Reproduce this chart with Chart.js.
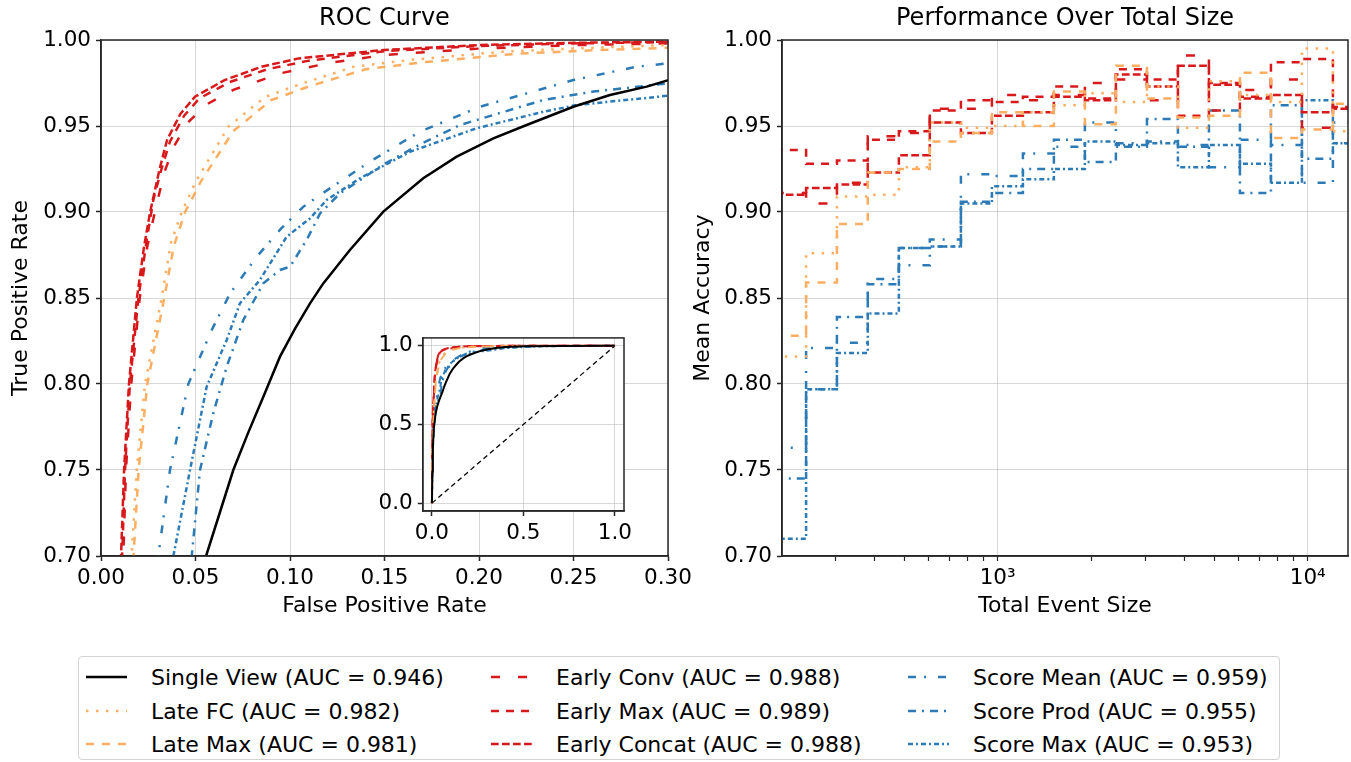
<!DOCTYPE html>
<html>
<head>
<meta charset="utf-8">
<script src="https://cdn.jsdelivr.net/npm/chart.js@4.4.0/dist/chart.umd.min.js"></script>
<style>
  body { margin: 0; background: #fff; width: 1351px; height: 762px; position: relative; overflow: hidden; font-family: "DejaVu Sans", sans-serif; }
  canvas { position: absolute; }
  #roc { left: 0; top: 0; }
  #perf { left: 690px; top: 0; }
  #inset { left: 360px; top: 320px; }
  #legendBox { position: absolute; left: 78px; top: 656px; width: 1200px; height: 102px; border: 1px solid #d3d3d3; border-radius: 4px; }
  .item { position: absolute; height: 30px; display: flex; align-items: center; font-size: 22px; color: #000; white-space: nowrap; }
  .item svg { margin-right: 24px; }
</style>
</head>
<body>
<canvas id="roc" width="700" height="640"></canvas>
<canvas id="perf" width="661" height="640"></canvas>
<canvas id="inset" width="280" height="230"></canvas>
<div id="legendBox"></div>
<div id="legend"></div>
<script>
const FONT = '"DejaVu Sans", sans-serif';
const RED = '#d7191c', ORANGE = '#fdae61', BLUE = '#2c7bb6', BLACK = '#000000';
const GRID = 'rgba(176,176,176,0.5)';
const AXIS = '#262626';

const seriesNames = ['Single View', 'Late FC', 'Late Max', 'Early Conv', 'Early Max', 'Early Concat', 'Score Mean', 'Score Prod', 'Score Max'];
const aucValues = [0.946, 0.982, 0.981, 0.988, 0.989, 0.988, 0.959, 0.955, 0.953];
const seriesColors = [BLACK, ORANGE, ORANGE, RED, RED, RED, BLUE, BLUE, BLUE];
const seriesDashes = [[], [2.5, 7.5], [8, 8], [9, 18], [8, 7], [7.7, 3.3], [8, 8, 2, 12], [8, 6, 2, 6], [5, 3, 2, 3]];

// ROC curves, [false positive rate, true positive rate]
const rocSingleView = [[0,0],[0.002,0.2],[0.005,0.35],[0.01,0.47],[0.02,0.57],[0.03,0.62],[0.04,0.655],[0.048,0.68],[0.0556,0.70],[0.0628,0.725],[0.070,0.75],[0.078,0.772],[0.0859,0.7926],[0.0947,0.8159],[0.1026,0.832],[0.1106,0.8469],[0.1176,0.8585],[0.1317,0.8779],[0.1494,0.9002],[0.1705,0.9196],[0.1882,0.9322],[0.2076,0.9428],[0.2252,0.9506],[0.2499,0.9612],[0.2693,0.968],[0.2887,0.9729],[0.3002,0.9767],[0.35,0.986],[0.4,0.992],[0.5,0.997],[0.7,0.999],[1,1]];
const rocLateFC = [[0,0],[0.002,0.3],[0.006,0.5],[0.011,0.62],[0.0162,0.70],[0.0189,0.75],[0.0233,0.80],[0.0321,0.85],[0.037,0.882],[0.0427,0.90],[0.0506,0.9186],[0.0674,0.9496],[0.087,0.967],[0.1066,0.9748],[0.134,0.9845],[0.1634,0.9884],[0.2124,0.9932],[0.2516,0.9951],[0.30,0.9971],[0.4,0.999],[1,1]];
const rocLateMax = [[0,0],[0.0025,0.3],[0.007,0.5],[0.012,0.62],[0.0172,0.70],[0.0199,0.75],[0.0245,0.80],[0.0333,0.849],[0.0385,0.88],[0.0445,0.90],[0.053,0.918],[0.07,0.947],[0.09,0.965],[0.11,0.973],[0.14,0.983],[0.17,0.987],[0.22,0.992],[0.26,0.994],[0.30,0.9955],[0.4,0.9985],[1,1]];
const rocEarlyConv = [[0,0],[0.002,0.3],[0.0045,0.5],[0.0075,0.62],[0.0118,0.70],[0.0132,0.75],[0.016,0.80],[0.0205,0.85],[0.0245,0.88],[0.0285,0.9],[0.0335,0.923],[0.0385,0.938],[0.046,0.952],[0.055,0.962],[0.07,0.971],[0.0948,0.9806],[0.12,0.9865],[0.1497,0.9913],[0.2,0.995],[0.25,0.997],[0.3,0.998],[0.4,0.9993],[1,1]];
const rocEarlyMax = [[0,0],[0.0015,0.3],[0.004,0.5],[0.007,0.62],[0.0112,0.70],[0.0127,0.75],[0.0153,0.80],[0.0198,0.85],[0.0242,0.8837],[0.0277,0.907],[0.032,0.925],[0.0365,0.941],[0.044,0.956],[0.052,0.966],[0.068,0.9755],[0.088,0.983],[0.11,0.988],[0.15,0.9935],[0.2,0.9965],[0.25,0.998],[0.3,0.9988],[0.4,0.9995],[1,1]];
const rocEarlyConcat = [[0,0],[0.001,0.3],[0.003,0.5],[0.006,0.62],[0.0106,0.70],[0.0122,0.75],[0.0148,0.80],[0.019,0.85],[0.0228,0.88],[0.026,0.9],[0.031,0.925],[0.035,0.942],[0.042,0.957],[0.0497,0.967],[0.0654,0.9767],[0.085,0.9845],[0.1046,0.9893],[0.1497,0.9942],[0.2006,0.9971],[0.2516,0.9984],[0.30,0.999],[0.4,0.9995],[1,1]];
const rocScoreMean = [[0,0],[0.002,0.3],[0.008,0.5],[0.018,0.62],[0.025,0.67],[0.0303,0.70],[0.0365,0.75],[0.0462,0.80],[0.0586,0.8314],[0.0683,0.8527],[0.0824,0.874],[0.095,0.89],[0.107,0.903],[0.1159,0.9099],[0.1423,0.9293],[0.1688,0.9467],[0.2005,0.9612],[0.2499,0.9767],[0.2834,0.9845],[0.30,0.9864],[0.4,0.995],[0.6,0.999],[1,1]];
const rocScoreProd = [[0,0],[0.004,0.3],[0.012,0.5],[0.026,0.62],[0.04,0.67],[0.048,0.70],[0.0524,0.75],[0.0594,0.783],[0.0665,0.81],[0.0753,0.8372],[0.0859,0.8585],[0.0947,0.8663],[0.10,0.8682],[0.1088,0.8837],[0.1159,0.8992],[0.1265,0.9109],[0.15,0.928],[0.17,0.94],[0.19,0.9506],[0.234,0.9651],[0.2605,0.970],[0.30,0.9748],[0.4,0.99],[0.6,0.998],[1,1]];
const rocScoreMax = [[0,0],[0.003,0.3],[0.01,0.5],[0.022,0.62],[0.031,0.67],[0.0383,0.70],[0.0471,0.75],[0.0559,0.7984],[0.0665,0.8256],[0.0735,0.8469],[0.0841,0.8605],[0.0982,0.8856],[0.1106,0.8963],[0.1194,0.907],[0.137,0.9196],[0.1635,0.935],[0.1988,0.9487],[0.234,0.9583],[0.2517,0.9622],[0.30,0.9676],[0.4,0.985],[0.6,0.997],[1,1]];
const rocCurves = [rocSingleView, rocLateFC, rocLateMax, rocEarlyConv, rocEarlyMax, rocEarlyConcat, rocScoreMean, rocScoreProd, rocScoreMax];
const chanceLine = [[0,0],[1,1]];

// mean accuracy per total event size bin (bin edges, one value per bin)
const sizeBinEdges = [191, 241, 303, 381, 480, 604, 761, 958, 1206, 1518, 1911, 2406, 3030, 3814, 4802, 6045, 7610, 9580, 12060, 15180];
const accLateFC = [0.816,0.876,0.909,0.910,0.926,0.952,0.949,0.950,0.958,0.962,0.969,0.964,0.973,0.949,0.976,0.968,0.964,0.995,0.947];
const accLateMax = [0.828,0.859,0.893,0.923,0.925,0.941,0.946,0.958,0.950,0.970,0.951,0.985,0.966,0.955,0.956,0.981,0.943,0.948,0.963];
const accEarlyConv = [0.911,0.905,0.917,0.944,0.946,0.960,0.960,0.968,0.965,0.968,0.975,0.977,0.965,0.991,0.959,0.971,0.977,0.949,0.965];
const accEarlyMax = [0.936,0.928,0.930,0.942,0.947,0.959,0.965,0.964,0.967,0.973,0.966,0.983,0.977,0.956,0.975,0.967,0.987,0.989,0.961];
const accEarlyConcat = [0.910,0.914,0.916,0.923,0.933,0.952,0.946,0.956,0.958,0.967,0.965,0.980,0.973,0.985,0.974,0.966,0.968,0.958,0.960];
const accScoreMean = [0.763,0.821,0.824,0.861,0.869,0.884,0.922,0.921,0.934,0.938,0.952,0.940,0.941,0.939,0.926,0.942,0.939,0.917,0.952];
const accScoreProd = [0.745,0.797,0.839,0.858,0.879,0.880,0.906,0.911,0.925,0.942,0.929,0.938,0.954,0.938,0.959,0.911,0.962,0.931,0.940];
const accScoreMax = [0.710,0.797,0.818,0.841,0.879,0.880,0.905,0.915,0.919,0.925,0.941,0.939,0.940,0.926,0.939,0.928,0.917,0.965,0.940];
const perfSeries = [null, accLateFC, accLateMax, accEarlyConv, accEarlyMax, accEarlyConcat, accScoreMean, accScoreProd, accScoreMax];

const rocTicks = [0, 0.05, 0.10, 0.15, 0.20, 0.25, 0.30];
const accTicks = [0.70, 0.75, 0.80, 0.85, 0.90, 0.95, 1.00];
const insetTicks = [0, 0.5, 1.0];
const sizeTicks = [300,400,500,600,700,800,900,1000,2000,3000,4000,5000,6000,7000,8000,9000,10000];
const sizeTickLabels = { 1000: '10³', 10000: '10⁴' };

Chart.defaults.font.family = FONT;
Chart.defaults.color = '#000';

// spines on all four sides
const frame = {
  id: 'frame',
  afterDraw(chart) {
    const { ctx, chartArea: a } = chart;
    ctx.save();
    ctx.strokeStyle = AXIS;
    ctx.lineWidth = 1.5;
    ctx.strokeRect(a.left, a.top, a.right - a.left, a.bottom - a.top);
    ctx.restore();
  }
};
const whiteBg = {
  id: 'whiteBg',
  beforeDraw(chart) {
    const { ctx, chartArea: a } = chart;
    ctx.save();
    ctx.fillStyle = '#fff';
    ctx.fillRect(a.left, a.top, a.right - a.left, a.bottom - a.top);
    ctx.restore();
  }
};

function setTicks(values) {
  return (s) => { s.ticks = values.map(v => ({ value: v })); };
}

function baseScale(extra) {
  return Object.assign({
    bounds: 'data',
    border: { display: true, color: AXIS, width: 1.5 },
    grid: { color: GRID, lineWidth: 1, tickLength: 5, tickColor: AXIS, tickWidth: 1.5 },
    ticks: { font: { size: 21.5 }, color: '#000', padding: 5, maxRotation: 0, autoSkip: false }
  }, extra);
}

function rocDataset(i, width) {
  return {
    data: rocCurves[i].map(p => ({ x: p[0], y: p[1] })),
    borderColor: seriesColors[i],
    borderDash: seriesDashes[i],
    borderWidth: width,
    borderCapStyle: 'butt',
    pointRadius: 0,
    tension: 0,
    fill: false
  };
}

const commonOpts = {
  responsive: false,
  maintainAspectRatio: false,
  animation: false,
  events: []
};

// ROC chart
new Chart(document.getElementById('roc'), {
  type: 'line',
  data: { datasets: seriesNames.map((n, i) => Object.assign(rocDataset(i, 2.5), { label: n })) },
  options: Object.assign({}, commonOpts, {
    layout: { padding: { left: 0, right: 32, top: 0, bottom: 0 } },
    plugins: {
      legend: { display: false },
      tooltip: { enabled: false },
      title: { display: true, text: 'ROC Curve', fullSize: false, font: { size: 24, weight: 'normal' }, color: '#000', padding: { top: 4, bottom: 7.2 } }
    },
    scales: {
      x: baseScale({
        type: 'linear', min: 0, max: 0.3,
        afterBuildTicks: setTicks(rocTicks),
        afterFit: (s) => { s.height = 84; },
        ticks: { font: { size: 21.5 }, color: '#000', padding: 5, maxRotation: 0, autoSkip: false, callback: v => v.toFixed(2) },
        title: { display: true, text: 'False Positive Rate', font: { size: 22 }, color: '#000', padding: { top: 0, bottom: 21 } }
      }),
      y: baseScale({
        type: 'linear', min: 0.7, max: 1.0,
        afterBuildTicks: setTicks(accTicks),
        afterFit: (s) => { s.width = 101; },
        ticks: { font: { size: 21.5 }, color: '#000', padding: 5, autoSkip: false, callback: v => v.toFixed(2) },
        title: { display: true, text: 'True Positive Rate', font: { size: 22 }, color: '#000', padding: { top: 8, bottom: 0 } }
      })
    }
  }),
  plugins: [frame]
});

// inset with the full ROC range
const insetSets = seriesNames.map((n, i) => Object.assign(rocDataset(i, 2), { label: n }));
insetSets.push({
  label: 'chance',
  data: chanceLine.map(p => ({ x: p[0], y: p[1] })),
  borderColor: BLACK, borderDash: [5, 3.5], borderWidth: 1.3, pointRadius: 0, fill: false
});
new Chart(document.getElementById('inset'), {
  type: 'line',
  data: { datasets: insetSets },
  options: Object.assign({}, commonOpts, {
    layout: { padding: { left: 0, right: 16, top: 10.7, bottom: 0 } },
    plugins: { legend: { display: false }, tooltip: { enabled: false } },
    scales: {
      x: baseScale({
        type: 'linear', min: -0.05, max: 1.05,
        afterBuildTicks: setTicks(insetTicks),
        afterFit: (s) => { s.height = 39; },
        ticks: { font: { size: 21.5 }, color: '#000', padding: 5, maxRotation: 0, autoSkip: false, callback: v => v.toFixed(1) }
      }),
      y: baseScale({
        type: 'linear', min: -0.05, max: 1.05,
        afterBuildTicks: setTicks(insetTicks),
        afterFit: (s) => { s.width = 62.8; },
        ticks: { font: { size: 21.5 }, color: '#000', padding: 5, autoSkip: false, callback: v => v.toFixed(1) }
      })
    }
  }),
  plugins: [whiteBg, frame]
});

// accuracy vs total event size
const perfSets = [];
perfSeries.forEach((vals, i) => {
  if (!vals) return;
  perfSets.push({
    label: seriesNames[i],
    data: sizeBinEdges.map((e, k) => ({ x: e, y: vals[Math.min(k, vals.length - 1)] })),
    stepped: 'before',
    borderColor: seriesColors[i],
    borderDash: seriesDashes[i],
    borderWidth: 2.5,
    borderCapStyle: 'butt',
    pointRadius: 0,
    fill: false
  });
});
new Chart(document.getElementById('perf'), {
  type: 'line',
  data: { datasets: perfSets },
  options: Object.assign({}, commonOpts, {
    layout: { padding: { left: 0, right: 3, top: 0, bottom: 0 } },
    plugins: {
      legend: { display: false },
      tooltip: { enabled: false },
      title: { display: true, text: 'Performance Over Total Size', fullSize: false, font: { size: 24, weight: 'normal' }, color: '#000', padding: { top: 4, bottom: 7.2 } }
    },
    scales: {
      x: baseScale({
        type: 'logarithmic', min: 201.5, max: 13490,
        afterBuildTicks: setTicks(sizeTicks),
        afterFit: (s) => { s.height = 84; },
        grid: {
          color: (c) => (c.tick && sizeTickLabels[c.tick.value]) ? GRID : 'rgba(0,0,0,0)',
          lineWidth: 1, tickLength: 5, tickColor: AXIS, tickWidth: 1.2
        },
        ticks: { font: { size: 21.5 }, color: '#000', padding: 5, maxRotation: 0, autoSkip: false, callback: v => sizeTickLabels[v] || '' },
        title: { display: true, text: 'Total Event Size', font: { size: 22 }, color: '#000', padding: { top: 0, bottom: 21 } }
      }),
      y: baseScale({
        type: 'linear', min: 0.7, max: 1.0,
        afterBuildTicks: setTicks(accTicks),
        afterFit: (s) => { s.width = 92; },
        ticks: { font: { size: 21.5 }, color: '#000', padding: 5, autoSkip: false, callback: v => v.toFixed(2) },
        title: { display: true, text: 'Mean Accuracy', font: { size: 22 }, color: '#000', padding: { top: 0, bottom: 0 } }
      })
    }
  }),
  plugins: [frame]
});

// legend, filled column by column
const legendCols = [86, 491, 908];
const legendRows = [677, 711, 744];
const legendEl = document.getElementById('legend');
seriesNames.forEach((n, i) => {
  const col = Math.floor(i / 3), row = i % 3;
  const item = document.createElement('div');
  item.className = 'item';
  item.style.left = legendCols[col] + 'px';
  item.style.top = (legendRows[row] - 15) + 'px';
  const dash = seriesDashes[i].length ? seriesDashes[i].join(' ') : 'none';
  item.innerHTML = '<svg width="41" height="10"><line x1="0" y1="5" x2="41" y2="5" stroke="' + seriesColors[i] +
    '" stroke-width="2.5" stroke-dasharray="' + dash + '"/></svg>';
  const label = document.createElement('span');
  label.textContent = n + ' (AUC = ' + aucValues[i].toFixed(3) + ')';
  item.appendChild(label);
  legendEl.appendChild(item);
});
</script>
</body>
</html>
